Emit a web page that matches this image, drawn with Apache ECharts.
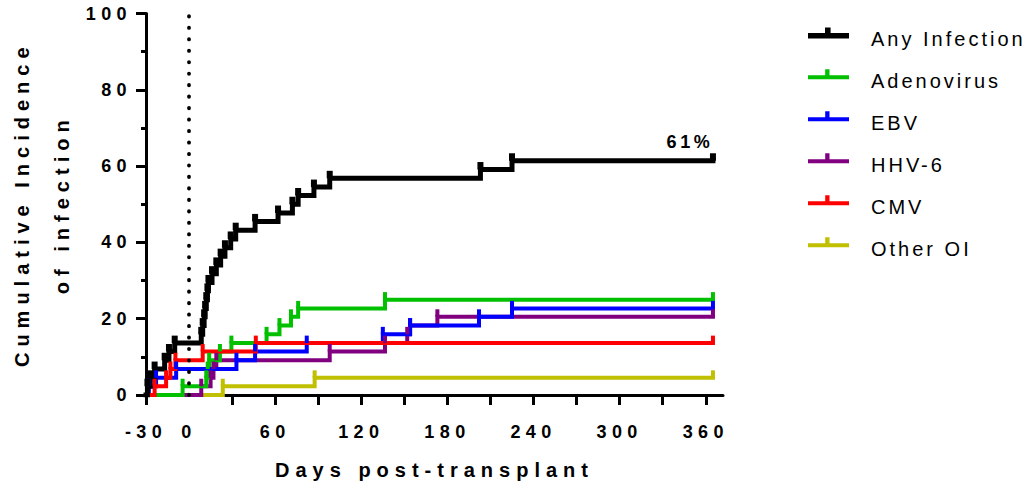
<!DOCTYPE html>
<html>
<head>
<meta charset="utf-8">
<title>Cumulative incidence of infection</title>
<script src="https://cdn.jsdelivr.net/npm/echarts@6/dist/echarts.min.js"></script>
<style>
  html, body { margin: 0; padding: 0; background: #fff; }
  #chart { width: 1026px; height: 491px; }
</style>
</head>
<body>
<div id="chart"></div>
<script>
// day of each step (days post-transplant) and the level reached (%)
var anyDays = [-29, -27, -24, -17, -14, -10, 8.5, 9.5, 10.5, 11.2, 12, 12.8, 13.5, 16, 19, 22, 25, 29, 32.5, 46, 62, 72, 76, 87, 98, 203, 225, 365];
var anyVals = [2.3, 4.5, 6.8, 9.1, 11.4, 13.6, 15.9, 18.2, 20.5, 22.7, 25.0, 27.3, 29.5, 31.8, 34.1, 36.4, 38.6, 40.9, 43.2, 45.5, 47.7, 50.0, 52.3, 54.5, 56.8, 59.1, 61.4, 61.4];

var adenoDays = [-4.5, 12, 13, 14, 21.5, 29.5, 54, 63, 71, 76, 136.5, 365];
var adenoVals = [2.3, 4.5, 6.8, 9.1, 11.4, 13.6, 15.9, 18.2, 20.5, 22.7, 25.0, 25.0];

var ebvDays = [-28, -23, -9, 33, 46, 82, 135, 154, 202, 225, 365];
var ebvVals = [2.3, 4.5, 6.8, 9.1, 11.4, 13.6, 15.9, 18.2, 20.5, 22.7, 22.7];

var hhvDays = [8.5, 15, 17, 19, 98, 136.5, 152, 154, 173, 365];
var hhvVals = [2.3, 4.5, 6.8, 9.1, 11.4, 13.6, 15.9, 18.2, 20.5, 20.5];

var cmvDays = [-24, -16, -13, -9.5, 9.5, 46.5, 365];
var cmvVals = [2.3, 4.5, 6.8, 9.1, 11.4, 13.6, 13.6];

var otherDays = [23.5, 87.5, 365];
var otherVals = [2.3, 4.5, 4.5];

var tickDays = [-30, 30, 60, 90, 120, 150, 180, 210, 240, 270, 300, 330, 360];
var labelDays = [-30, 0, 60, 120, 180, 240, 300, 360];
var finalLabel = '61%';

var FONT = 'Liberation Sans, Arial, Helvetica, sans-serif';

// legend icon: a line with a small tick on top, box padded below so the line sits above the text middle
var blackIcon = 'path://M0,0 L41,0 Z M0,6 L41,6 L41,11.5 L0,11.5 Z M17,0.5 L22.6,0.5 L22.6,6 L17,6 Z M0,24 L41,24 Z';
var thinIcon = 'path://M0,0 L41,0 Z M0,6.3 L41,6.3 L41,10.3 L0,10.3 Z M17.2,0.3 L21.5,0.3 L21.5,6.3 L17.2,6.3 Z M0,24 L41,24 Z';

function steps(days, vals) {
    var data = [{ value: [-30, 0], symbol: 'none' }];
    for (var i = 0; i < days.length; i++) {
        data.push([days[i], vals[i]]);
    }
    return data;
}

function curve(name, color, width, tickW, days, vals) {
    return {
        name: name,
        type: 'line',
        step: 'end',
        data: steps(days, vals),
        symbol: 'rect',
        symbolSize: [tickW, 7.5],
        symbolOffset: [0, -3.75],
        showSymbol: true,
        itemStyle: { color: color, borderWidth: 0 },
        lineStyle: { color: color, width: width, cap: 'square', join: 'miter' },
        emphasis: { disabled: true },
        label: { show: false }
    };
}

var dom = document.getElementById('chart');
var myChart = echarts.init(dom, null, { renderer: 'svg' });

var anySeries = curve('Any Infection', '#000000', 5, 6, anyDays, anyVals);
var last = anySeries.data[anySeries.data.length - 1];
anySeries.data[anySeries.data.length - 1] = {
    value: last,
    label: {
        show: true,
        formatter: finalLabel,
        position: 'top',
        offset: [-23, 3],
        fontFamily: FONT,
        fontSize: 18,
        fontWeight: 'bold',
        color: '#000'
    }
};
// day 0 marker
anySeries.markLine = {
    silent: true,
    symbol: ['none', 'none'],
    label: { show: false },
    emphasis: { disabled: true },
    lineStyle: { color: '#000', width: 3.8, type: [0.3, 11.17], dashOffset: 0, cap: 'round' },
    data: [{ xAxis: 0 }]
};

var option = {
    animation: false,
    grid: {
        left: 146,
        right: 303,
        top: 13.5,
        bottom: 96,
        outerBoundsMode: 'none'
    },
    legend: {
        orient: 'vertical',
        left: 808,
        top: 27,
        padding: 0,
        itemWidth: 41,
        itemHeight: 24,
        itemGap: 18,
        selectedMode: false,
        itemStyle: { borderWidth: 0 },
        textStyle: { fontFamily: FONT, fontSize: 20, color: '#000', padding: [0, 0, 0, 17] },
        data: [
            { name: 'Any Infection', icon: blackIcon },
            { name: 'Adenovirus', icon: thinIcon },
            { name: 'EBV', icon: thinIcon },
            { name: 'HHV-6', icon: thinIcon },
            { name: 'CMV', icon: thinIcon },
            { name: 'Other OI', icon: thinIcon }
        ]
    },
    xAxis: {
        type: 'value',
        min: -30,
        max: 372,
        name: 'Days post-transplant',
        nameLocation: 'middle',
        nameGap: 65,
        nameMoveOverlap: false,
        nameTextStyle: { fontFamily: FONT, fontSize: 20, fontWeight: 'bold', color: '#000' },
        axisLine: { show: true, onZero: false, lineStyle: { color: '#000', width: 3 } },
        axisTick: { show: true, customValues: tickDays, length: 10, lineStyle: { color: '#000', width: 3 } },
        axisLabel: { customValues: labelDays, margin: 28, fontFamily: FONT, fontSize: 18, fontWeight: 'bold', color: '#000' },
        splitLine: { show: false }
    },
    yAxis: {
        type: 'value',
        min: 0,
        max: 100,
        interval: 20,
        name: 'Cumulative Incidence\nof infection',
        nameLocation: 'middle',
        nameGap: 64,
        nameMoveOverlap: false,
        nameTextStyle: { fontFamily: FONT, fontSize: 20, fontWeight: 'bold', color: '#000', lineHeight: 40 },
        axisLine: { show: true, onZero: false, lineStyle: { color: '#000', width: 3 } },
        axisTick: { show: true, length: 10, lineStyle: { color: '#000', width: 3 } },
        minorTick: { show: true, splitNumber: 2, length: 5, lineStyle: { color: '#000', width: 3 } },
        axisLabel: { margin: 14, fontFamily: FONT, fontSize: 18, fontWeight: 'bold', color: '#000' },
        splitLine: { show: false }
    },
    // drawn bottom to top: later series sit above earlier ones
    series: [
        curve('Other OI', '#c0c000', 4, 4, otherDays, otherVals),
        curve('HHV-6', '#800080', 4, 4, hhvDays, hhvVals),
        curve('Adenovirus', '#00c000', 4, 4, adenoDays, adenoVals),
        curve('EBV', '#0000ff', 4, 4, ebvDays, ebvVals),
        curve('CMV', '#ff0000', 4, 4, cmvDays, cmvVals),
        anySeries
    ]
};

// Prism-style wide letter spacing on every text
function spaceLetters() {
    var texts = dom.querySelectorAll('text');
    for (var i = 0; i < texts.length; i++) {
        var cs = getComputedStyle(texts[i]);
        var size = parseFloat(cs.fontSize);
        var bold = parseInt(cs.fontWeight, 10) >= 600;
        var em = bold ? 0.3 : 0.15;
        if (texts[i].textContent === finalLabel) em = 0.2;
        texts[i].style.letterSpacing = (size * em).toFixed(1) + 'px';
    }
}
myChart.on('finished', spaceLetters);

if (option && typeof option === 'object') {
    myChart.setOption(option);
}
spaceLetters();
</script>
</body>
</html>
